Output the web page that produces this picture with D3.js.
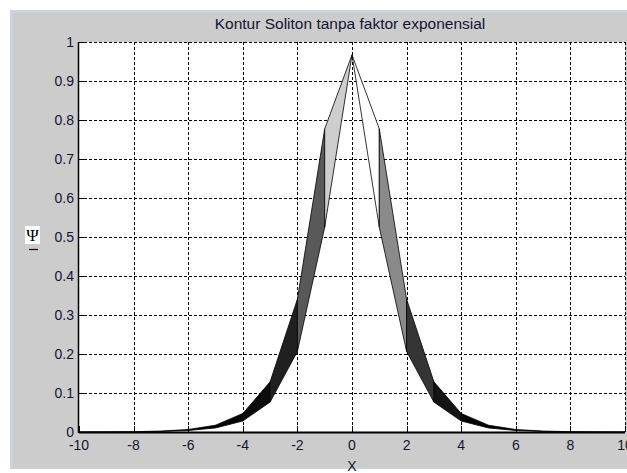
<!DOCTYPE html>
<html><head><meta charset="utf-8">
<script src="https://cdn.jsdelivr.net/npm/d3@7"></script>
<style>html,body{margin:0;padding:0;background:#fff;}svg{display:block;}</style>
</head><body>
<script>
// ---- data ----
const xValues = [-10,-9,-8,-7,-6,-5,-4,-3,-2,-1,0,1,2,3,4,5,6,7,8,9,10];
const psiRow1 = [0.0001,0.0003,0.0009,0.0024,0.0064,0.0175,0.0475,0.1286,0.3406,0.7773,0.9671,0.5251,0.2065,0.0767,0.0282,0.0104,0.0038,0.0014,0.0005,0.0002,0.0001];
const psiRow2 = [0.0001,0.0002,0.0005,0.0014,0.0038,0.0104,0.0282,0.0767,0.2065,0.5251,0.9671,0.7773,0.3406,0.1286,0.0475,0.0175,0.0064,0.0024,0.0009,0.0003,0.0001];
const xTicks = [-10,-8,-6,-4,-2,0,2,4,6,8,10];
const yTicks = [0,0.1,0.2,0.3,0.4,0.5,0.6,0.7,0.8,0.9,1];
const yTickLabels = ["0","0.1","0.2","0.3","0.4","0.5","0.6","0.7","0.8","0.9","1"];
const titleText = "Kontur Soliton tanpa faktor exponensial";
const xLabel = "X";
const yLabel = "\u03A8";

(function () {
const W = 627, H = 473;
const pL = 79, pR = 625, pT = 42, pB = 432;
const font = "'Liberation Sans', Arial, sans-serif";

const svg = d3.select("body").append("svg").attr("width", W).attr("height", H);

// figure background
svg.append("rect").attr("width", W).attr("height", H).attr("fill", "#ffffff");
svg.append("rect").attr("x", 10).attr("y", 10).attr("width", W - 10).attr("height", H - 14).attr("fill", "#c9d3e2");
svg.append("rect").attr("x", 13).attr("y", 13).attr("width", W - 13).attr("height", H - 18).attr("fill", "#cccccc");

const x = d3.scaleLinear().domain([-10, 10]).range([pL, pR]);
const y = d3.scaleLinear().domain([0, 1]).range([pB, pT]);

// axes background
svg.append("rect").attr("x", pL).attr("y", pT).attr("width", pR - pL).attr("height", pB - pT).attr("fill", "#ffffff");

// grid
const grid = svg.append("g").attr("stroke", "#000").attr("stroke-width", 1).attr("stroke-dasharray", "3,2").attr("shape-rendering", "crispEdges");
xTicks.filter(t => t > -10).forEach(t => {
  grid.append("line").attr("x1", Math.round(x(t)) + 0.5).attr("x2", Math.round(x(t)) + 0.5).attr("y1", pT).attr("y2", pB);
});
yTicks.filter(t => t > 0).forEach(t => {
  grid.append("line").attr("y1", Math.round(y(t)) + 0.5).attr("y2", Math.round(y(t)) + 0.5).attr("x1", pL).attr("x2", pR);
});

// surface facets (flat shading, gray colormap, colour from row 1 at facet's first corner)
const ext = d3.extent(psiRow1.concat(psiRow2));
const grays = d3.range(64).map(i => { const v = Math.round(i / 63 * 255); return d3.rgb(v, v, v).formatHex(); });
const color = d3.scaleQuantize().domain(ext).range(grays);

const surf = svg.append("g");
for (let i = 0; i < xValues.length - 1; i++) {
  const pts = [
    [x(xValues[i]), y(psiRow1[i])],
    [x(xValues[i + 1]), y(psiRow1[i + 1])],
    [x(xValues[i + 1]), y(psiRow2[i + 1])],
    [x(xValues[i]), y(psiRow2[i])]
  ];
  surf.append("path")
    .attr("d", "M" + pts.map(p => p.join(",")).join("L") + "Z")
    .attr("fill", color(psiRow1[i]))
    .attr("stroke", "#000")
    .attr("stroke-width", 0.8)
    .attr("stroke-linejoin", "round");
}

// axes lines
const ax = svg.append("g").attr("stroke", "#000");
ax.append("line").attr("x1", pL).attr("x2", pR).attr("y1", pB + 0.5).attr("y2", pB + 0.5).attr("stroke-width", 2);
ax.append("line").attr("x1", pL - 0.5).attr("x2", pL - 0.5).attr("y1", pT).attr("y2", pB + 1).attr("stroke-width", 1.5);
// ticks (inward)
xTicks.forEach(t => {
  ax.append("line").attr("x1", Math.round(x(t)) + 0.5).attr("x2", Math.round(x(t)) + 0.5)
    .attr("y1", pB).attr("y2", pB - 6).attr("stroke-width", 1).attr("shape-rendering", "crispEdges");
});
yTicks.forEach(t => {
  ax.append("line").attr("y1", Math.round(y(t)) + 0.5).attr("y2", Math.round(y(t)) + 0.5)
    .attr("x1", pL).attr("x2", pL + 6).attr("stroke-width", 1).attr("shape-rendering", "crispEdges");
});

// tick labels
const lab = svg.append("g").attr("font-family", font).attr("font-size", 14).attr("fill", "#141432");
xTicks.forEach(t => {
  lab.append("text").attr("x", x(t)).attr("y", 450).attr("text-anchor", "middle").text(String(t));
});
yTicks.forEach((t, i) => {
  lab.append("text").attr("x", 74).attr("y", y(t) + 5).attr("text-anchor", "end").text(yTickLabels[i]);
});

// title and axis labels
svg.append("text").attr("x", 350).attr("y", 29).attr("text-anchor", "middle")
  .attr("font-family", font).attr("font-size", 15.5).attr("fill", "#141432").text(titleText);
svg.append("text").attr("x", 352).attr("y", 471).attr("text-anchor", "middle")
  .attr("font-family", font).attr("font-size", 14).attr("fill", "#141432").text(xLabel);

// y label with white box and underline
svg.append("rect").attr("x", 25).attr("y", 226).attr("width", 15).attr("height", 18).attr("fill", "#ffffff");
svg.append("text").attr("x", 32.5).attr("y", 241).attr("text-anchor", "middle")
  .attr("font-family", "'Liberation Serif', 'DejaVu Serif', serif").attr("font-size", 17).attr("fill", "#000").text(yLabel);
svg.append("line").attr("x1", 29).attr("x2", 38).attr("y1", 249.5).attr("y2", 249.5).attr("stroke", "#1a0000").attr("stroke-width", 1.2);
})();
</script>
</body></html>
